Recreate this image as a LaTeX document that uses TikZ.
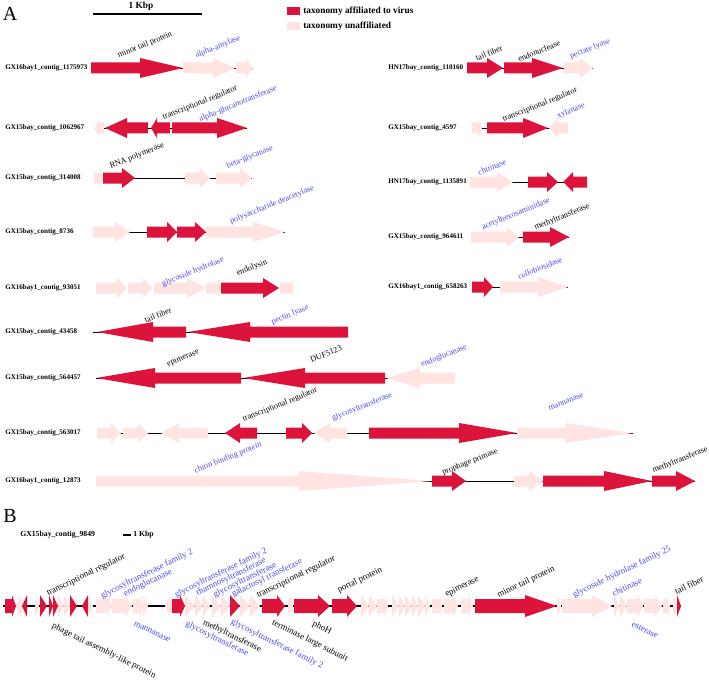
\documentclass[tikz,border=0pt]{standalone}
\usepackage{fontspec}
\setmainfont{Liberation Serif}
\definecolor{vred}{RGB}{220,20,60}
\definecolor{vpink}{RGB}{255,228,225}
\definecolor{vblue}{RGB}{72,72,235}
\def\bh{5.5}\def\hh{10}
% gene arrow: y, from, to, head length, style
\newcommand\gn[5]{%
  \pgfmathsetmacro\hb{#3-sign(#3-#2)*min(#4,abs(#3-#2))}%
  \fill[#5] (#2,#1-\bh) -- (\hb,#1-\bh) -- (\hb,#1-\hh) -- (#3,#1) -- (\hb,#1+\hh) -- (\hb,#1+\bh) -- (#2,#1+\bh) -- cycle;}
\newcommand\bb[3]{\draw[bbline] (#2,#1) -- (#3,#1);}
\tikzset{
  vir/.style={fill=vred},
  una/.style={fill=vpink},
  bbline/.style={draw=black, line width=0.45pt},
  lab/.style={font=\fontsize{6.2}{7}\selectfont, rotate=22, inner sep=0},
  blab/.style={lab, text=vblue},
  blb/.style={font=\fontsize{6.7}{7.5}\selectfont, rotate=26, inner sep=0},
  bblab/.style={blb, text=vblue},
  ctg/.style={font=\bfseries\fontsize{5.3}{6}\selectfont, anchor=west, inner sep=0},
  legtext/.style={font=\bfseries\fontsize{7}{8}\selectfont, anchor=west, inner sep=0},
}
\begin{document}
\begin{tikzpicture}[x=0.75pt,y=-0.75pt]
\useasboundingbox (0,0) rectangle (709,681);
% ---------- Panel A header ----------
\node[font=\fontsize{15}{16}\selectfont, inner sep=0] (A) at (10,14) {A};
\draw[line width=0.8pt] (93,14) -- (202,14);
\node[font=\bfseries\fontsize{7}{8}\selectfont, inner sep=0] (kbpA) at (141,6.5) {1 Kbp};
\fill[vred] (287,7) rectangle (300,15);
\fill[vpink] (287,22) rectangle (300,30);
\node[legtext] (leg1) at (303,11) {taxonomy affiliated to virus};
\node[legtext] (leg2) at (303,26) {taxonomy unaffiliated};
% ---------- contig names ----------
\node[ctg] (c1) at (5,68) {GX16bay1\_contig\_1175973};
\node[ctg] (c2) at (5,128) {GX15bay\_contig\_1062967};
\node[ctg] (c3) at (5,178) {GX15bay\_contig\_314008};
\node[ctg] (c4) at (5,232) {GX15bay\_contig\_8736};
\node[ctg] (c5) at (5,288) {GX16bay1\_contig\_93051};
\node[ctg] (c6) at (5,332) {GX15bay\_contig\_43458};
\node[ctg] (c7) at (5,378) {GX15bay\_contig\_564457};
\node[ctg] (c8) at (5,433) {GX15bay\_contig\_563017};
\node[ctg] (c9) at (5,481) {GX16bay1\_contig\_12873};
\node[ctg] (r1) at (388,68) {HN17bay\_contig\_110160};
\node[ctg] (r2) at (388,128) {GX15bay\_contig\_4597};
\node[ctg] (r3) at (388,182) {HN17bay\_contig\_1135891};
\node[ctg] (r4) at (388,237) {GX15bay\_contig\_964611};
\node[ctg] (r5) at (388,287) {GX16bay1\_contig\_658263};
% ---------- Row 1 ----------
\bb{68}{91}{253}
\gn{68}{91}{183}{43}{vir}
\gn{68}{183}{235}{22}{una}
\gn{68}{236}{253}{7}{una}
\node[lab] (t1a) at (145,45) {minor tail protein};
\node[blab] (t1b) at (218,47) {alpha-amylase};
% ---------- Row 2 ----------
\bb{128}{95}{247}
\gn{128}{104}{95}{4}{una}
\gn{128}{148}{105}{22}{vir}
\gn{128}{170}{151}{6}{vir}
\gn{128}{172}{247}{30}{vir}
\node[lab] (t2a) at (200,103) {transcriptional regulator};
\node[blab] (t2b) at (238,104) {alpha-glucanotransferase};
% ---------- Row 3 ----------
\bb{178}{94}{252}
\gn{178}{94}{103}{3}{una}
\gn{178}{103}{135}{13}{vir}
\gn{178}{185}{210}{10}{una}
\gn{178}{216}{252}{12}{una}
\node[lab] (t3a) at (137,156) {RNA polymerase};
\node[blab] (t3b) at (250,157) {beta-glycanase};
% ---------- Row 4 ----------
\bb{232}{93}{285}
\gn{232}{93}{130}{15}{una}
\gn{232}{147}{177}{10}{vir}
\gn{232}{177}{206}{11}{vir}
\gn{232}{206}{285}{32}{una}
\node[blab] (t4a) at (272,205) {polysaccharide deacetylase};
% ---------- Row 5 ----------
\gn{288}{96}{127}{10}{una}
\gn{288}{128}{152}{9}{una}
\gn{288}{154}{206}{19}{una}
\gn{288}{206}{221}{3}{una}
\gn{288}{221}{279}{16}{vir}
\gn{288}{280}{294}{2}{una}
\node[blab] (t5a) at (193,272) {glycoside hydrolase};
\node[lab] (t5b) at (252,268) {endolysin};
% ---------- Row 6 ----------
\bb{332}{93}{348}
\gn{332}{186}{97}{56}{vir}
\gn{332}{348}{188}{62}{vir}
\node[lab] (t6a) at (158,315) {tail fiber};
\node[blab] (t6b) at (290,315) {pectin lyase};
% ---------- Row 7 ----------
\bb{378}{96}{455}
\gn{378}{241}{96}{59}{vir}
\gn{378}{385}{243}{62}{vir}
\gn{378}{455}{386}{34}{una}
\node[lab] (t7a) at (183,358) {epimerase};
\node[lab] (t7b) at (326,354) {DUF5123};
\node[blab] (t7c) at (444,356) {endoglucanase};
% ---------- Row 8 ----------
\bb{433}{97}{633}
\gn{433}{97}{121}{10}{una}
\gn{433}{123}{148}{10}{una}
\gn{433}{208}{161}{18}{una}
\gn{433}{257}{225}{15}{vir}
\gn{433}{286}{312}{10}{vir}
\gn{433}{347}{314}{16}{una}
\gn{433}{369}{517}{58}{vir}
\gn{433}{517}{633}{67}{una}
\node[lab] (t8a) at (280,405) {transcriptional regulator};
\node[blab] (t8b) at (362,407) {glycosyltransferase};
\node[blab] (t8c) at (566,402) {mannanase};
% ---------- Row 9 ----------
\bb{481}{96}{695}
\gn{481}{96}{432}{133}{una}
\gn{481}{432}{466}{14}{vir}
\gn{481}{514}{543}{14}{una}
\gn{481}{543}{652}{48}{vir}
\gn{481}{652}{695}{19}{vir}
\node[blab] (t9a) at (228,458) {chitin binding protein};
\node[lab] (t9b) at (470,462) {prophage primase};
\node[lab] (t9c) at (680,460) {methyltransferase};
% ---------- Right column ----------
\bb{68}{467}{593}
\gn{68}{467}{503}{16}{vir}
\gn{68}{504}{563}{31}{vir}
\gn{68}{564}{593}{13}{una}
\node[lab] (s1a) at (489,53) {tail fiber};
\node[lab] (s1b) at (539,51) {endonuclease};
\node[blab] (s1c) at (590,49) {pectate lyase};
\bb{128}{472}{568}
\gn{128}{472}{482}{3}{una}
\gn{128}{487}{548}{25}{vir}
\gn{128}{568}{549}{9}{una}
\node[lab] (s2a) at (540,105) {transcriptional regulator};
\node[blab] (s2b) at (571,111) {xylanase};
\bb{182}{470}{587}
\gn{182}{470}{513}{16}{una}
\gn{182}{528}{558}{11}{vir}
\gn{182}{587}{563}{10}{vir}
\node[blab] (s3a) at (492,167) {chitinase};
\bb{237}{471}{569}
\gn{237}{471}{519}{12}{una}
\gn{237}{523}{569}{19}{vir}
\node[blab] (s4a) at (516,214) {acetylhexosaminidase};
\node[lab] (s4b) at (562,217) {methyltransferase};
\bb{287}{472}{568}
\gn{287}{472}{493}{9}{vir}
\gn{287}{500}{568}{30}{una}
\node[blab] (s5a) at (540,268) {cellobiosidase};
% ---------- Panel B ----------
\node[font=\fontsize{15}{16}\selectfont, inner sep=0] (B) at (10,516) {B};
\node[font=\bfseries\fontsize{5.8}{7}\selectfont, anchor=west, inner sep=0] (cB) at (20,535) {GX15bay\_contig\_9849};
\draw[line width=0.8pt] (123,535) -- (131,535);
\node[font=\bfseries\fontsize{5.8}{7}\selectfont, anchor=west, inner sep=0] (kbpB) at (133,535) {1 Kbp};
\def\bh{7}\def\hh{11}
\draw[line width=1.2pt] (3,606) -- (681,606);
\gn{606}{5}{16}{4}{vir}
\gn{606}{22}{16}{5}{una}
\gn{606}{27}{22}{5}{vir}
\gn{606}{35}{39}{4}{una}
\gn{606}{40}{47}{7}{vir}
\gn{606}{49}{53}{4}{vir}
\gn{606}{53}{58}{5}{vir}
\gn{606}{58}{64}{6}{una}
\gn{606}{64}{70}{6}{una}
\gn{606}{70}{77}{7}{vir}
\gn{606}{88}{82}{6}{vir}
\gn{606}{88}{93}{5}{una}
\gn{606}{96}{112}{5}{una}
\gn{606}{112}{132}{7}{una}
\gn{606}{133}{143}{3}{una}
\gn{606}{143}{148}{5}{una}
\gn{606}{172}{165}{5}{una}
\gn{606}{172}{185}{5}{vir}
\gn{606}{185}{195}{10}{una}
\gn{606}{195}{203}{8}{una}
\gn{606}{203}{210}{7}{una}
\gn{606}{212}{221}{9}{una}
\gn{606}{221}{230}{9}{una}
\gn{606}{230}{240}{10}{vir}
\gn{606}{240}{250}{10}{una}
\gn{606}{250}{260}{10}{una}
\gn{606}{262}{285}{8}{vir}
\gn{606}{288}{293}{2}{una}
\gn{606}{294}{330}{12}{vir}
\gn{606}{332}{357}{10}{vir}
\gn{606}{361}{369}{8}{una}
\gn{606}{369}{377}{8}{una}
\gn{606}{377}{388}{3}{una}
\gn{606}{392}{399}{7}{una}
\gn{606}{399}{405}{6}{una}
\gn{606}{405}{412}{7}{una}
\gn{606}{412}{418}{6}{una}
\gn{606}{418}{425}{7}{una}
\gn{606}{425}{430}{5}{una}
\gn{606}{432}{442}{2}{una}
\gn{606}{444}{458}{5}{una}
\gn{606}{461}{473}{4}{una}
\gn{606}{475}{557}{32}{vir}
\gn{606}{557}{561}{3}{una}
\gn{606}{562}{612}{20}{una}
\gn{606}{614}{620}{6}{una}
\gn{606}{620}{627}{7}{una}
\gn{606}{627}{643}{5}{una}
\gn{606}{644}{662}{7}{una}
\gn{606}{663}{670}{3}{una}
\gn{606}{673}{677}{3}{una}
\gn{606}{677}{681}{4}{vir}
% labels above
\node[blb] (b1) at (86,575) {transcriptional regulator};
\node[bblab] (b2) at (147,574) {glycosyltransferase family 2};
\node[bblab] (b3) at (148,583) {endoglucanase};
\node[bblab] (b4) at (221,573) {glycosyltransferase family 2};
\node[bblab] (b5) at (231,577) {rhamnosyltransferase};
\node[bblab] (b6) at (245,580) {glycosyltransferase};
\node[bblab] (b7) at (267,578) {galactosyl transferase};
\node[blb] (b8) at (296,577) {transcriptional regulator};
\node[blb] (b9) at (360,580) {portal protein};
\node[blb] (b10) at (462,587) {epimerase};
\node[blb] (b11) at (526,582) {minor tail protein};
\node[bblab] (b12) at (622,572) {glycoside hydrolase family 25};
\node[bblab] (b13) at (627,587) {chitinase};
\node[blb] (b14) at (689,585) {tail fiber};
% labels below
\node[blb, rotate=-52] (d1) at (104,651) {phage tail assembly-like protein};
\node[bblab, rotate=-52] (d2) at (152,632) {mannanase};
\node[bblab, rotate=-52] (d3) at (217,639) {glycosyltransferase};
\node[blb, rotate=-52] (d4) at (232,636) {methyltransferase};
\node[bblab, rotate=-52] (d5) at (277,644) {glycosyltransferase family 2};
\node[blb, rotate=-52] (d6) at (310,641) {terminase large subunit};
\node[blb, rotate=-52] (d7) at (322,628) {phoH};
\node[bblab, rotate=-52] (d8) at (645,630) {esterase};
\end{tikzpicture}
\end{document}
